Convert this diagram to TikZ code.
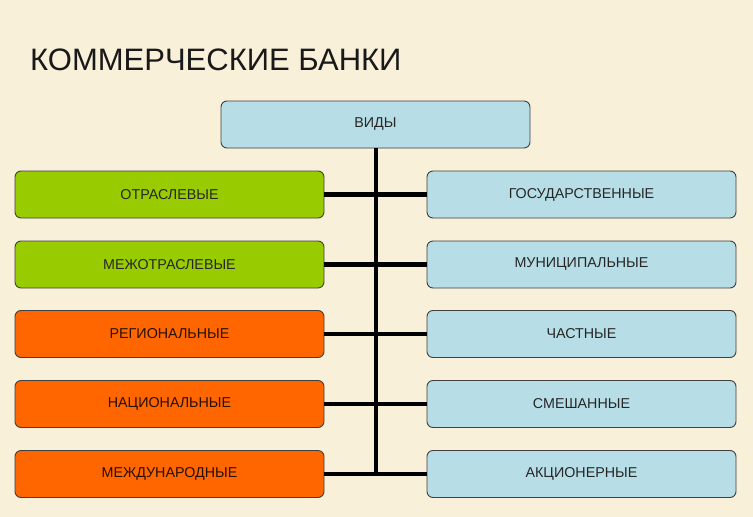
\documentclass[tikz,border=0pt]{standalone}
\usepackage{fontspec}
\setmainfont{Liberation Sans}
\definecolor{bg}{HTML}{F9F0DA}
\definecolor{lblue}{HTML}{B7DEE6}
\definecolor{lgreen}{HTML}{99CC00}
\definecolor{orng}{HTML}{FF6600}
\definecolor{edge}{HTML}{404040}
\definecolor{txt}{HTML}{262626}
\tikzset{
  box/.style={draw=edge, line width=0.9pt, rounded corners=6pt, minimum width=309pt, minimum height=47pt, inner sep=0pt, font=\fontsize{14.3}{16}\selectfont, text=txt},
  bluebox/.style={box, fill=lblue},
  greenbox/.style={box, fill=lgreen},
  orangebox/.style={box, fill=orng, text=black!85!orng},
  conn/.style={line width=4.5pt, black}
}
\begin{document}
\begin{tikzpicture}[x=1pt,y=-1pt]
\fill[bg] (0,0) rectangle (753,517);
\useasboundingbox (0,0) rectangle (753,517);
\node[anchor=base west, inner sep=0pt, font=\fontsize{31}{36}\selectfont, text=black!90] (title) at (30,70) {КОММЕРЧЕСКИЕ БАНКИ};
\node[bluebox] (vid) at (375.5,124.5) {ВИДЫ};
\node[greenbox] (l1) at (169.5,194.5) {ОТРАСЛЕВЫЕ};
\node[greenbox] (l2) at (169.5,264.5) {МЕЖОТРАСЛЕВЫЕ};
\node[orangebox] (l3) at (169.5,334) {РЕГИОНАЛЬНЫЕ};
\node[orangebox] (l4) at (169.5,404) {НАЦИОНАЛЬНЫЕ};
\node[orangebox] (l5) at (169.5,474) {МЕЖДУНАРОДНЫЕ};
\node[bluebox] (r1) at (581.5,194.5) {ГОСУДАРСТВЕННЫЕ};
\node[bluebox] (r2) at (581.5,264.5) {МУНИЦИПАЛЬНЫЕ};
\node[bluebox] (r3) at (581.5,334) {ЧАСТНЫЕ};
\node[bluebox] (r4) at (581.5,404) {СМЕШАННЫЕ};
\node[bluebox] (r5) at (581.5,474) {АКЦИОНЕРНЫЕ};
\coordinate (tend) at (376,474);
\draw[conn] (l1.east) -- (r1.west);
\draw[conn] (l2.east) -- (r2.west);
\draw[conn] (l3.east) -- (r3.west);
\draw[conn] (l4.east) -- (r4.west);
\draw[conn] (l5.east) -- (r5.west);
\draw[conn] (vid.south -| tend) -- (tend);
\end{tikzpicture}
\end{document}
